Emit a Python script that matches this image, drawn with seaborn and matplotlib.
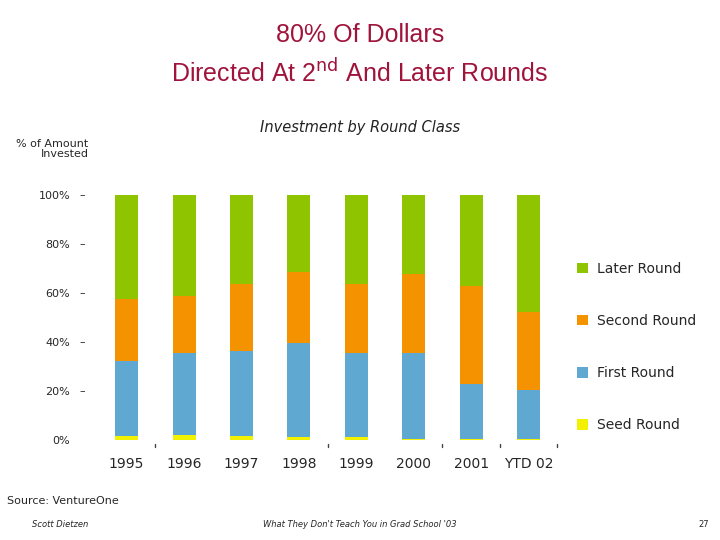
import matplotlib
matplotlib.use("Agg")
import matplotlib.pyplot as plt
import seaborn as sns
import numpy as np
import pandas as pd

years = ["1995", "1996", "1997", "1998", "1999", "2000", "2001", "YTD 02"]
seed = [1.6, 2.0, 1.6, 1.3, 1.3, 0.5, 0.5, 0.5]
first = [30.8, 33.6, 34.7, 38.4, 34.3, 35.1, 22.4, 19.9]
second = [25.0, 23.2, 27.4, 28.9, 28.1, 32.2, 40.0, 31.8]
later = [42.6, 41.2, 36.3, 31.4, 36.3, 32.2, 37.1, 47.8]
series = ["Seed Round", "First Round", "Second Round", "Later Round"]
colors = ["#f2f200", "#5ea8d2", "#f59200", "#8fc400"]

sns.set_style("white")
plt.rcParams['font.family'] = ['DejaVu Sans']
fig = plt.figure(figsize=(7.2, 5.4), dpi=100)
ax = fig.add_axes([0.132, 0.185, 0.646, 0.454])

df = pd.DataFrame({"year": years, "Seed Round": seed, "First Round": first,
                   "Second Round": second, "Later Round": later})
bottom = np.zeros(len(years))
for s, c in zip(series, colors):
    sns.barplot(x="year", y=s, data=df, color=c, bottom=bottom, width=0.4,
                ax=ax, label=s, saturation=1, edgecolor="none", linewidth=0)
    bottom = bottom + df[s].values

ax.set_ylim(0, 100)
ax.set_xlim(-0.55, 7.55)
ax.set_xlabel("")
ax.set_ylabel("")
ax.set_yticks([0, 20, 40, 60, 80, 100])
ax.set_yticklabels(["0%", "20%", "40%", "60%", "80%", "100%"], fontsize=8)
ax.tick_params(axis="y", length=4, width=0.8, color="#555", pad=14, left=False, right=False)
for yv in [20, 40, 60, 80, 100]:
    ax.annotate("–", xy=(0, yv), xycoords=("axes fraction", "data"), xytext=(-9, 0),
                textcoords="offset points", ha="center", va="center", fontsize=8)
ax.set_xticks(range(len(years)))
ax.set_xticklabels(years, fontsize=10)
ax.tick_params(axis="x", length=0, pad=12)
for xv in [0.5, 3.5, 5.5, 6.5, 7.5]:
    ax.plot([xv, xv], [-3, -1.5], color="#444", lw=1, clip_on=False)
for sp in ax.spines.values():
    sp.set_visible(False)

h, l = ax.get_legend_handles_labels()
ax.legend(h[::-1], l[::-1], loc="center left", bbox_to_anchor=(1.01, 0.38), frameon=False,
          fontsize=10, labelspacing=2.75, handlelength=0.8, handleheight=0.8, handletextpad=0.6)

fig.text(0.5, 0.935, "80% Of Dollars", ha="center", va="center", fontsize=18, color="#a0143c",
         family="Liberation Sans")
fig.text(0.5, 0.865, "Directed At 2$^{\\mathrm{nd}}$ And Later Rounds", ha="center", va="center",
         fontsize=18, color="#a0143c", family="Liberation Sans")
fig.text(0.5, 0.763, "Investment by Round Class", ha="center", va="center", fontsize=10.5,
         style="italic", color="#222")
fig.text(0.123, 0.724, "% of Amount\nInvested", ha="right", va="center", fontsize=8, linespacing=1.1)
fig.text(0.01, 0.073, "Source: VentureOne", ha="left", va="center", fontsize=8)
fig.text(0.045, 0.028, "Scott Dietzen", ha="left", va="center", fontsize=6, style="italic")
fig.text(0.5, 0.028, "What They Don't Teach You in Grad School '03", ha="center", va="center",
         fontsize=6, style="italic")
fig.text(0.985, 0.028, "27", ha="right", va="center", fontsize=6)
fig.savefig("out.png", dpi=100)
